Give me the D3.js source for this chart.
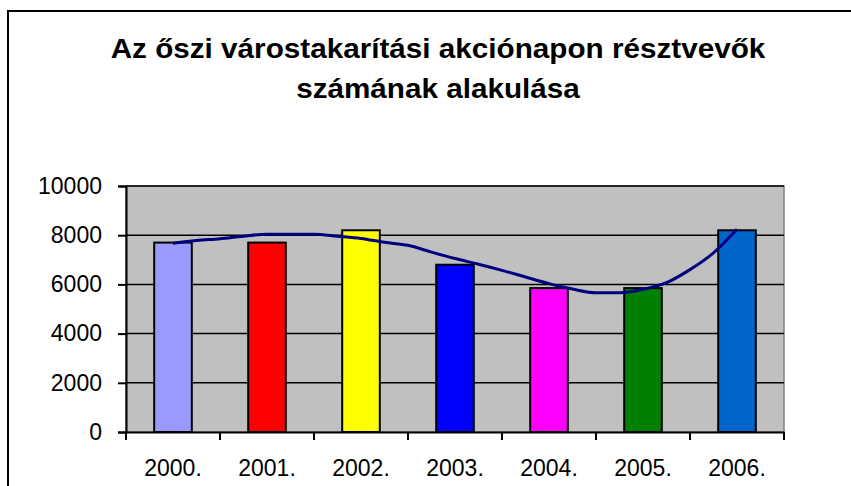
<!DOCTYPE html>
<html>
<head>
<meta charset="utf-8">
<script src="https://cdn.jsdelivr.net/npm/d3@7"></script>
<style>
  body { margin: 0; background: #fff; }
  text { font-family: "Liberation Sans", Arial, sans-serif; }
</style>
</head>
<body>
<script>
// data
var years = ["2000.", "2001.", "2002.", "2003.", "2004.", "2005.", "2006."];
var participants = [7700, 7700, 8200, 6800, 5850, 5850, 8200];
var barColors = ["#9999ff", "#ff0000", "#ffff00", "#0000ff", "#ff00ff", "#008000", "#0066cc"];
var yTicks = [0, 2000, 4000, 6000, 8000, 10000];

// trend line, read every quarter year (0 = 2000., 6 = 2006.)
var trendPos = [0, 0.25, 0.5, 0.75, 1, 1.25, 1.5, 1.75, 2, 2.25, 2.5, 2.75, 3, 3.25, 3.5, 3.75, 4, 4.25, 4.5, 4.75, 5, 5.25, 5.5, 5.75, 6];
var trendValues = [7670, 7780, 7860, 7960, 8040, 8040, 8040, 7960, 7870, 7710, 7590, 7310, 7050, 6820, 6570, 6300, 6030, 5810, 5660, 5660, 5800, 6070, 6600, 7280, 8240];

var titleLines = ["Az őszi várostakarítási akciónapon résztvevők", "számának alakulása"];

var W = 851, H = 486;
var plot = {left: 126, right: 784, top: 186, bottom: 432};

var svg = d3.select("body").append("svg")
    .attr("width", W).attr("height", H);

// outer chart frame
svg.append("rect")
    .attr("x", 8).attr("y", 11)
    .attr("width", W + 10).attr("height", H + 10)
    .attr("fill", "none").attr("stroke", "#000").attr("stroke-width", 2);

// title (the original is a bit wider than plain Arial, so stretch it)
svg.append("g")
    .attr("transform", "translate(438,0) scale(1.06,1)")
  .selectAll("text")
    .data(titleLines)
    .enter().append("text")
    .attr("x", 0)
    .attr("y", function(d, i) { return 58 + i * 40; })
    .attr("text-anchor", "middle")
    .style("font-size", "28px")
    .style("font-weight", "bold")
    .text(function(d) { return d; });

var x = d3.scaleBand().domain(years).range([plot.left, plot.right]).padding(0);
var y = d3.scaleLinear().domain([0, 10000]).range([plot.bottom, plot.top]);

// grey plot area
svg.append("rect")
    .attr("x", plot.left).attr("y", plot.top)
    .attr("width", plot.right - plot.left).attr("height", plot.bottom - plot.top)
    .attr("fill", "#c0c0c0")
    .attr("stroke", "#808080").attr("stroke-width", 1.5);

// gridlines
svg.append("g").selectAll("line")
    .data(yTicks.slice(1))
    .enter().append("line")
    .attr("x1", plot.left).attr("x2", plot.right)
    .attr("y1", function(d) { return y(d); })
    .attr("y2", function(d) { return y(d); })
    .attr("stroke", "#000").attr("stroke-width", 1.5);

// bars, 40% of the category width
var barW = x.bandwidth() * 0.4;
svg.append("g").selectAll("rect")
    .data(participants)
    .enter().append("rect")
    .attr("x", function(d, i) { return x(years[i]) + (x.bandwidth() - barW) / 2; })
    .attr("y", function(d) { return y(d); })
    .attr("width", barW)
    .attr("height", function(d) { return y(0) - y(d); })
    .attr("fill", function(d, i) { return barColors[i]; })
    .attr("stroke", "#000").attr("stroke-width", 2);

// axes
var yAxis = svg.append("g")
    .attr("transform", "translate(" + plot.left + ",0)")
    .call(d3.axisLeft(y).tickValues(yTicks).tickSize(8).tickPadding(16).tickFormat(d3.format("d")));
var xAxis = svg.append("g")
    .attr("transform", "translate(0," + plot.bottom + ")")
    .call(d3.axisBottom(x).tickSize(0).tickPadding(28));

// category boundary ticks
xAxis.append("g").selectAll("line")
    .data(d3.range(years.length + 1))
    .enter().append("line")
    .attr("x1", function(i) { return plot.left + i * x.step(); })
    .attr("x2", function(i) { return plot.left + i * x.step(); })
    .attr("y1", 0).attr("y2", 8)
    .attr("stroke", "#000").attr("stroke-width", 2);

[yAxis, xAxis].forEach(function(a) {
  a.select(".domain").attr("stroke", "#000").attr("stroke-width", 2);
  a.selectAll(".tick line").attr("stroke", "#000").attr("stroke-width", 2);
  a.selectAll(".tick text")
    .attr("fill", "#000")
    .style("font-family", "'Liberation Sans', Arial, sans-serif")
    .style("font-size", "23px");
});

// trend line
var tx = d3.scaleLinear().domain([0, 6])
    .range([x(years[0]) + x.bandwidth() / 2, x(years[6]) + x.bandwidth() / 2]);
var line = d3.line()
    .x(function(d, i) { return tx(trendPos[i]); })
    .y(function(d) { return y(d); })
    .curve(d3.curveMonotoneX);
svg.append("path")
    .datum(trendValues)
    .attr("d", line)
    .attr("fill", "none")
    .attr("stroke", "#000080")
    .attr("stroke-width", 3);
</script>
</body>
</html>
